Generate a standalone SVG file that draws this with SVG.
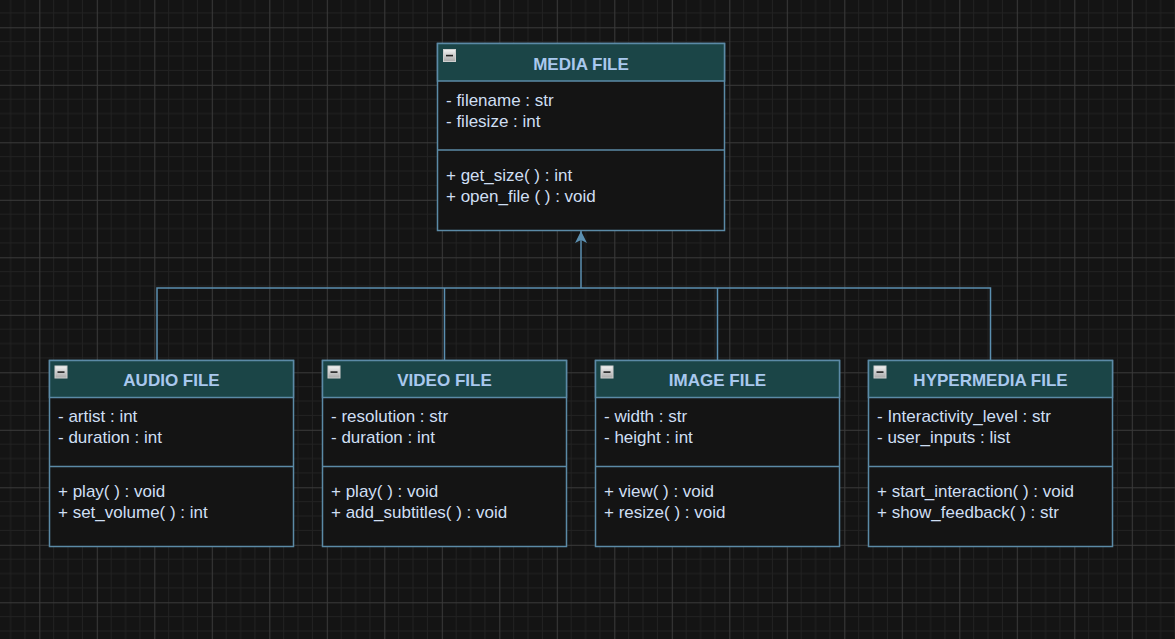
<svg xmlns="http://www.w3.org/2000/svg" width="1175" height="639" viewBox="0 0 1175 639">
  <defs>
    <pattern id="grid" patternUnits="userSpaceOnUse" x="39.3" y="27.3" width="57.5" height="57.5">
      <rect width="57.5" height="57.5" fill="#141414"/>
      <g stroke="#222222" stroke-width="1">
        <line x1="14.375" y1="0" x2="14.375" y2="57.5"/>
        <line x1="28.75" y1="0" x2="28.75" y2="57.5"/>
        <line x1="43.125" y1="0" x2="43.125" y2="57.5"/>
        <line x1="0" y1="14.375" x2="57.5" y2="14.375"/>
        <line x1="0" y1="28.75" x2="57.5" y2="28.75"/>
        <line x1="0" y1="43.125" x2="57.5" y2="43.125"/>
      </g>
      <g stroke="#3a3a3a" stroke-width="1">
        <line x1="0.5" y1="0" x2="0.5" y2="57.5"/>
        <line x1="0" y1="0.5" x2="57.5" y2="0.5"/>
      </g>
    </pattern>
    <linearGradient id="btn" x1="0" y1="0" x2="0" y2="1">
      <stop offset="0" stop-color="#f2f2f2"/>
      <stop offset="1" stop-color="#a8a8a8"/>
    </linearGradient>
    <marker id="arrow" viewBox="0 0 12 12" refX="12" refY="6" markerWidth="12" markerHeight="12" markerUnits="userSpaceOnUse" orient="auto">
      <path d="M12,6 L0,0 L3,6 L0,12 Z" fill="#5b8fb0"/>
    </marker>
    <g id="toggle">
      <rect x="0.5" y="0.5" width="12" height="12" fill="url(#btn)" stroke="#cfcfcf" stroke-width="1"/>
      <rect x="3" y="5.8" width="7" height="1.6" fill="#222"/>
    </g>
  </defs>
  <style>
    .box { fill: #141414; stroke: #5b8aa6; stroke-width: 1.5; }
    .head { fill: #1b4547; stroke: #5b8aa6; stroke-width: 1.5; }
    .sep { stroke: #5b8aa6; stroke-width: 1.5; }
    .title { font-family: "Liberation Sans", Arial, sans-serif; font-size: 17px; font-weight: bold; fill: #a9c8ee; text-anchor: middle; }
    .item { font-family: "Liberation Sans", Arial, sans-serif; font-size: 17px; fill: #cfdff3; }
    .edge { fill: none; stroke: #5b8fb0; stroke-width: 1.5; }
  </style>

  <rect width="1175" height="639" fill="url(#grid)"/>

  <!-- inheritance connectors -->
  <g id="connectors">
    <path class="edge" d="M157,360.5 V288 H990.5 V360.5"/>
    <path class="edge" d="M444.5,288 V360.5"/>
    <path class="edge" d="M717.5,288 V360.5"/>
    <path class="edge" d="M581,288 V231" marker-end="url(#arrow)"/>
  </g>

  <!-- base class -->
  <g id="media-file">
    <rect class="box" x="437.5" y="43.5" width="287" height="187"/>
    <rect class="head" x="437.5" y="43.5" width="287" height="37.5"/>
    <use href="#toggle" x="443" y="49"/>
    <text class="title" x="581" y="70">MEDIA FILE</text>
    <text class="item" x="446" y="106">- filename : str</text>
    <text class="item" x="446" y="127">- filesize : int</text>
    <line class="sep" x1="437.5" y1="150" x2="724.5" y2="150"/>
    <text class="item" x="446" y="181">+ get_size( ) : int</text>
    <text class="item" x="446" y="202">+ open_file ( ) : void</text>
  </g>

  <g id="audio-file">
    <rect class="box" x="49.5" y="360.5" width="244" height="186"/>
    <rect class="head" x="49.5" y="360.5" width="244" height="37"/>
    <use href="#toggle" x="54.5" y="365.5"/>
    <text class="title" x="171.5" y="386">AUDIO FILE</text>
    <text class="item" x="58" y="422">- artist : int</text>
    <text class="item" x="58" y="443">- duration : int</text>
    <line class="sep" x1="49.5" y1="466.5" x2="293.5" y2="466.5"/>
    <text class="item" x="58" y="497">+ play( ) : void</text>
    <text class="item" x="58" y="518">+ set_volume( ) : int</text>
  </g>

  <g id="video-file">
    <rect class="box" x="322.5" y="360.5" width="244" height="186"/>
    <rect class="head" x="322.5" y="360.5" width="244" height="37"/>
    <use href="#toggle" x="327.5" y="365.5"/>
    <text class="title" x="444.5" y="386">VIDEO FILE</text>
    <text class="item" x="331" y="422">- resolution : str</text>
    <text class="item" x="331" y="443">- duration : int</text>
    <line class="sep" x1="322.5" y1="466.5" x2="566.5" y2="466.5"/>
    <text class="item" x="331" y="497">+ play( ) : void</text>
    <text class="item" x="331" y="518">+ add_subtitles( ) : void</text>
  </g>

  <g id="image-file">
    <rect class="box" x="595.5" y="360.5" width="244" height="186"/>
    <rect class="head" x="595.5" y="360.5" width="244" height="37"/>
    <use href="#toggle" x="600.5" y="365.5"/>
    <text class="title" x="717.5" y="386">IMAGE FILE</text>
    <text class="item" x="604" y="422">- width : str</text>
    <text class="item" x="604" y="443">- height : int</text>
    <line class="sep" x1="595.5" y1="466.5" x2="839.5" y2="466.5"/>
    <text class="item" x="604" y="497">+ view( ) : void</text>
    <text class="item" x="604" y="518">+ resize( ) : void</text>
  </g>

  <g id="hypermedia-file">
    <rect class="box" x="868.5" y="360.5" width="244" height="186"/>
    <rect class="head" x="868.5" y="360.5" width="244" height="37"/>
    <use href="#toggle" x="873.5" y="365.5"/>
    <text class="title" x="990.5" y="386">HYPERMEDIA FILE</text>
    <text class="item" x="877" y="422">- Interactivity_level : str</text>
    <text class="item" x="877" y="443">- user_inputs : list</text>
    <line class="sep" x1="868.5" y1="466.5" x2="1112.5" y2="466.5"/>
    <text class="item" x="877" y="497">+ start_interaction( ) : void</text>
    <text class="item" x="877" y="518">+ show_feedback( ) : str</text>
  </g>
</svg>
